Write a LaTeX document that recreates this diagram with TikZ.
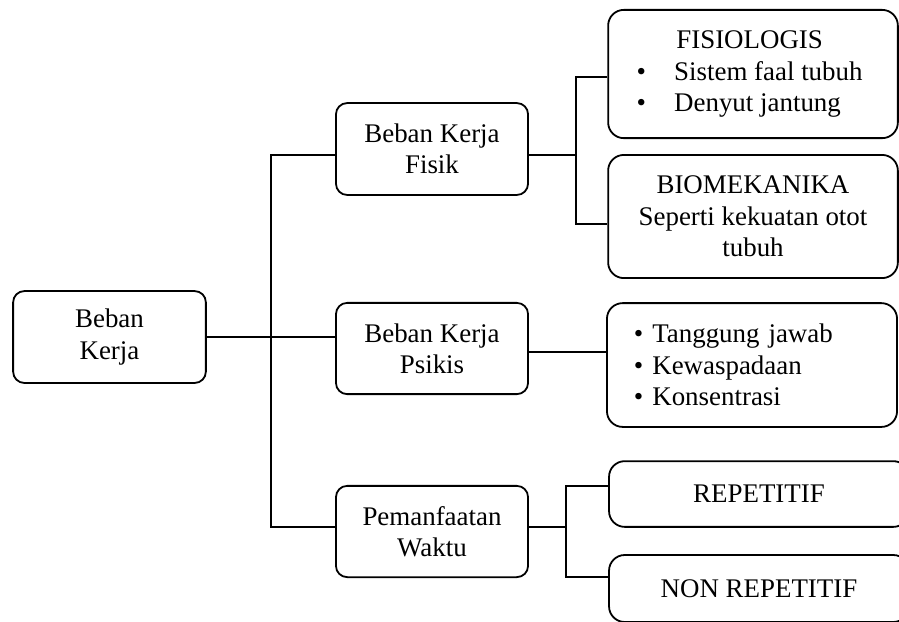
\documentclass[tikz,border=0pt]{standalone}
\usepackage{fontspec}
\setmainfont{Liberation Serif}
\usepackage{array}

\begin{document}
\begin{tikzpicture}[
        x=0.01567cm, y=-0.01567cm,
        line width=0.8pt,
        every node/.append style={font=\fontsize{12}{14}\selectfont},
        box/.style={draw,rounded corners=5pt,align=center,inner sep=0pt},
        bigbox/.style={box,rounded corners=7pt}
    ]
    \useasboundingbox (0,0) rectangle (899,621);
    \node[box,minimum width=3.02cm,minimum height=1.44cm]
        (root) at (109.5,337) {Beban\\Kerja};
    \node[box,minimum width=3.01cm,minimum height=1.44cm]
        (fisik) at (432,149) {Beban Kerja\\Fisik};
    \node[box,minimum width=3.01cm,minimum height=1.43cm]
        (psikis) at (432,348.5) {Beban Kerja\\Psikis};
    \node[box,minimum width=3.01cm,minimum height=1.43cm]
        (waktu) at (432,531.5) {Pemanfaatan\\Waktu};
    \node[bigbox,minimum width=4.54cm,minimum height=2.01cm]
        (fisio) at (753,74) {
            \begin{tabular}{@{}c@{\hspace{12.5pt}}l@{}}
                \multicolumn{2}{c}{FISIOLOGIS}\\
                \textbullet & Sistem faal tubuh\\
                \textbullet & Denyut jantung
            \end{tabular}
        };
    \node[bigbox,minimum width=4.54cm,minimum height=1.93cm]
        (biomek) at (753,216.5) {BIOMEKANIKA\\Seperti kekuatan otot\\tubuh};
    \node[bigbox,align=left,text width=3.70cm,inner xsep=0.423cm,minimum height=1.94cm]
        (psilist) at (752,365) {
            \textbullet\ Tanggung jawab\\
            \textbullet\ Kewaspadaan\\
            \textbullet\ Konsentrasi
        };
    \node[bigbox,minimum width=4.70cm,minimum height=1.03cm]
        (repet) at (759,494) {REPETITIF};
    \node[bigbox,minimum width=4.70cm,minimum height=1.05cm]
        (nonrep) at (759,588.5) {NON REPETITIF};
    \coordinate (jA1) at (271,155);
    \coordinate (jA3) at (271,527);
    \draw (jA1 -| fisik.west) -- (jA1) -- (jA3) -- (jA3 -| waktu.west);
    \draw (root.east) -- (root.east -| psikis.west);
    \coordinate (jB) at (576,155);
    \coordinate (jB1) at (576,77);
    \coordinate (jB2) at (576,224);
    \draw (jB -| fisik.east) -- (jB);
    \draw (jB1 -| fisio.west) -- (jB1) -- (jB2) -- (jB2 -| biomek.west);
    \coordinate (jC) at (528,352);
    \draw (jC) -- (jC -| psilist.west);
    \coordinate (jD) at (566,527);
    \coordinate (jD1) at (566,486);
    \coordinate (jD2) at (566,577);
    \draw (jD -| waktu.east) -- (jD);
    \draw (jD1 -| repet.west) -- (jD1) -- (jD2) -- (jD2 -| nonrep.west);
\end{tikzpicture}
\end{document}
